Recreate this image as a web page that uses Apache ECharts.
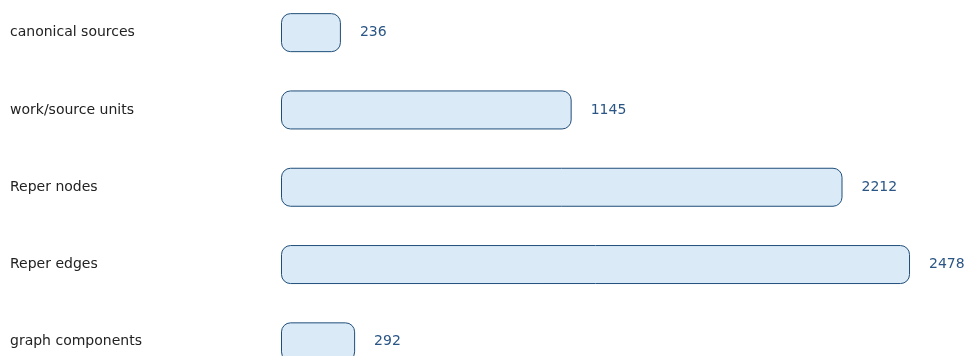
<!DOCTYPE html>
<html>
<head>
<meta charset="utf-8">
<script src="https://cdn.jsdelivr.net/npm/echarts@6/dist/echarts.min.js"></script>
<style>
html,body{margin:0;padding:0;background:#fff;}
#main{width:968px;height:356px;}
</style>
</head>
<body>
<div id="main"></div>
<script>
var categories = ['canonical sources','work/source units','Reper nodes','Reper edges','graph components'];
var values = [236, 1145, 2212, 2478, 292];

var myChart = echarts.init(document.getElementById('main'));
var option = {
    animation: false,
    grid: {
        left: 281,
        right: 27,
        top: -6,
        height: 386.5,
        outerBoundsMode: 'none'
    },
    xAxis: {
        type: 'value',
        min: 0,
        max: 2600,
        show: false
    },
    yAxis: {
        type: 'category',
        inverse: true,
        data: categories,
        axisLine: {show: false},
        axisTick: {show: false},
        axisLabel: {
            align: 'left',
            margin: 271,
            fontFamily: 'DejaVu Sans',
            fontSize: 14,
            color: '#222'
        }
    },
    series: [
        {
            type: 'bar',
            data: values,
            barWidth: 39,
            itemStyle: {
                color: '#dbeaf7',
                borderColor: '#1f4e79',
                borderWidth: 1,
                borderRadius: 9
            },
            label: {
                show: true,
                position: 'right',
                distance: 19,
                fontFamily: 'DejaVu Sans',
                fontSize: 14,
                color: '#2a5585'
            }
        }
    ]
};
myChart.setOption(option);
</script>
</body>
</html>
